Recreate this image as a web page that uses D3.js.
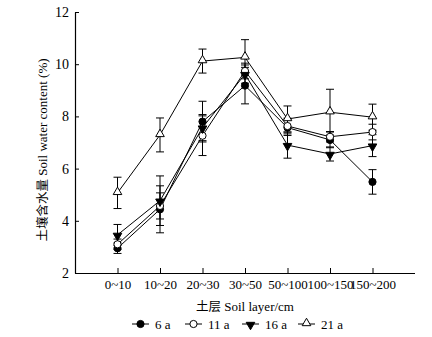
<!DOCTYPE html>
<html><head><meta charset="utf-8">
<script src="https://cdn.jsdelivr.net/npm/d3@7"></script>
<style>
html,body{margin:0;padding:0;background:#fff;}
</style></head>
<body><svg id="c" width="432" height="337" font-family="Liberation Serif, DejaVu Serif, serif"></svg>
<script>
const categories = ["0~10","10~20","20~30","30~50","50~100","100~150","150~200"];
const yTicks = [2,4,6,8,10,12];
const seriesNames = ["6 a","11 a","16 a","21 a"];
const values6a  = [2.95,4.44,7.80,9.18,7.57,7.10,5.49];
const err6a     = [0.20,0.90,0.78,0.70,0.30,0.30,0.47];
const values11a = [3.10,4.57,7.26,9.74,7.63,7.22,7.40];
const err11a    = [0.20,0.50,0.76,0.30,0.30,0.20,0.30];
const values16a = [3.46,4.77,7.57,9.62,6.90,6.56,6.88];
const err16a    = [0.40,0.95,0.50,0.35,0.50,0.27,0.42];
const values21a = [5.07,7.29,10.12,10.26,7.90,8.16,7.97];
const err21a    = [0.60,0.65,0.46,0.68,0.50,0.88,0.50];

const series = [
  {name:seriesNames[0], v:values6a,  e:err6a,  sym:"circle",   fill:"#000"},
  {name:seriesNames[1], v:values11a, e:err11a, sym:"circle",   fill:"#fff"},
  {name:seriesNames[2], v:values16a, e:err16a, sym:"tridown",  fill:"#000"},
  {name:seriesNames[3], v:values21a, e:err21a, sym:"triup",    fill:"#fff"}
];

const SERIF = "Liberation Serif, DejaVu Serif, serif";
const CJK = "Noto Sans CJK SC, sans-serif";
const svg = d3.select("#c");
const x = d3.scaleLinear().domain([0,8]).range([75,415]);
const y = d3.scaleLinear().domain([2,12]).range([273,12]);

// axes
const xAxis = d3.axisBottom(x).tickValues(d3.range(1,8)).tickSizeInner(-5).tickSizeOuter(0)
  .tickFormat(i => categories[i-1]);
const gx = svg.append("g").attr("transform","translate(0,273)").call(xAxis)
  .attr("font-family",SERIF).attr("font-size",13);
gx.select(".domain").attr("d","M75,0.5H415").attr("stroke","#000").attr("stroke-width",1.2);
gx.selectAll(".tick line").attr("stroke","#000");
gx.selectAll(".tick text").attr("y",7).attr("dy","0.71em").attr("fill","#000");

const yAxis = d3.axisLeft(y).tickValues(yTicks).tickSizeInner(-4).tickSizeOuter(0).tickPadding(6);
const gy = svg.append("g").attr("transform","translate(75,0)").call(yAxis)
  .attr("font-family",SERIF).attr("font-size",14);
gy.select(".domain").attr("stroke","#000").attr("stroke-width",1.2);
gy.selectAll(".tick line").attr("stroke","#000");
gy.selectAll(".tick text").attr("fill","#000");

// axis titles
const yt = svg.append("text").attr("transform","translate(47,150) rotate(-90)").attr("text-anchor","middle")
  .attr("font-family",SERIF).attr("font-size",13);
yt.append("tspan").attr("font-family",CJK).attr("font-size",12.5).text("土壤含水量");
yt.append("tspan").text(" Soil water content (%)");
const xt = svg.append("text").attr("x",245).attr("y",311).attr("text-anchor","middle")
  .attr("font-family",SERIF).attr("font-size",13);
xt.append("tspan").attr("font-family",CJK).attr("font-size",12.5).text("土层");
xt.append("tspan").text(" Soil layer/cm");

// symbols
function drawSym(g, s, cx, cy){
  if(s.sym==="circle"){
    g.append("circle").attr("cx",cx).attr("cy",cy).attr("r",3.6)
      .attr("fill",s.fill).attr("stroke","#000").attr("stroke-width",1);
  } else {
    const t = d3.symbol().type(d3.symbolTriangle).size(32)();
    g.append("path").attr("d",t)
      .attr("transform",`translate(${cx},${cy + (s.sym==="tridown"?0.8:-0.8)}) rotate(${s.sym==="tridown"?180:0})`)
      .attr("fill",s.fill).attr("stroke","#000").attr("stroke-width",1);
  }
}

const line = d3.line().x((d,i)=>x(i+1)).y(d=>y(d));
const plot = svg.append("g");
series.forEach(s=>{
  plot.append("path").attr("d",line(s.v)).attr("fill","none").attr("stroke","#000").attr("stroke-width",1);
});
series.forEach(s=>{
  const g = plot.append("g").attr("stroke","#000").attr("stroke-width",1);
  s.v.forEach((v,i)=>{
    const cx = x(i+1), hi = y(v+s.e[i]), lo = y(v-s.e[i]);
    g.append("line").attr("x1",cx).attr("x2",cx).attr("y1",hi).attr("y2",lo);
    g.append("line").attr("x1",cx-4).attr("x2",cx+4).attr("y1",hi).attr("y2",hi);
    g.append("line").attr("x1",cx-4).attr("x2",cx+4).attr("y1",lo).attr("y2",lo);
  });
});
series.forEach(s=>{
  const g = plot.append("g");
  s.v.forEach((v,i)=> drawSym(g, s, x(i+1), y(v)));
});

// legend
const legX = [132,185,242,298];
const legY = 324;
const lg = svg.append("g");
series.forEach((s,k)=>{
  const x0 = legX[k];
  lg.append("line").attr("x1",x0).attr("x2",x0+17).attr("y1",legY).attr("y2",legY)
    .attr("stroke","#000").attr("stroke-width",1);
  drawSym(lg, s, x0+8.5, legY);
  lg.append("text").attr("x",x0+23).attr("y",legY).attr("dy","0.35em")
    .attr("font-family",SERIF).attr("font-size",13).text(s.name);
});
</script></body></html>
